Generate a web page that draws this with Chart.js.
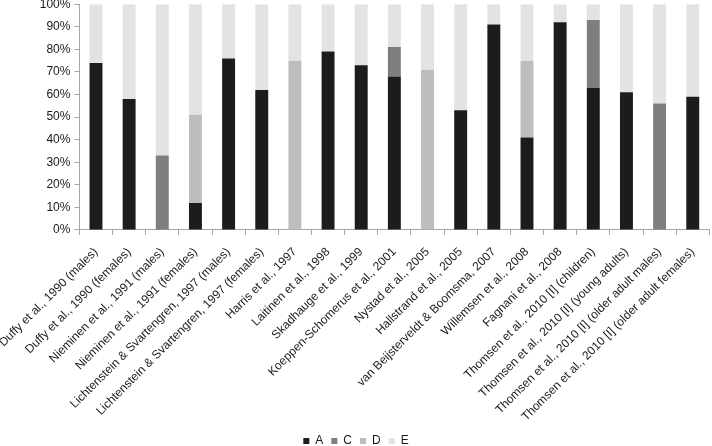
<!DOCTYPE html>
<html>
<head>
<meta charset="utf-8">
<script src="https://cdn.jsdelivr.net/npm/chart.js@4/dist/chart.umd.min.js"></script>
<style>
  html, body { margin: 0; padding: 0; background: #fff; overflow: hidden; }
  #wrap { width: 712px; height: 464px; margin-top: -7px; }
</style>
</head>
<body>
<div id="wrap"><canvas id="studiesChart"></canvas></div>
<script>
var studies = [
    'Duffy et al., 1990 (males)',
    'Duffy et al., 1990 (females)',
    'Nieminen et al., 1991 (males)',
    'Nieminen et al., 1991 (females)',
    'Lichtenstein & Svartengren, 1997 (males)',
    'Lichtenstein & Svartengren, 1997 (females)',
    'Harris et al., 1997',
    'Laitinen et al., 1998',
    'Skadhauge et al., 1999',
    'Koeppen-Schomerus et al., 2001',
    'Nystad et al., 2005',
    'Hallstrand et al., 2005',
    'van Beijsterveldt & Boomsma, 2007',
    'Willemsen et al., 2008',
    'Fagnani et al., 2008',
    'Thomsen et al., 2010 [I] (children)',
    'Thomsen et al., 2010 [I] (young adults)',
    'Thomsen et al., 2010 [I] (older adult males)',
    'Thomsen et al., 2010 [I] (older adult females)'
];

var valuesA = [74, 58, 0, 12, 76, 62, 0, 79, 73, 68, 0, 53, 91, 41, 92, 63, 61, 0, 59];
var valuesC = [0, 0, 33, 0, 0, 0, 0, 0, 0, 13, 0, 0, 0, 0, 0, 30, 0, 56, 0];
var valuesD = [0, 0, 0, 39, 0, 0, 75, 0, 0, 0, 71, 0, 0, 34, 0, 0, 0, 0, 0];
var valuesE = [26, 42, 67, 49, 24, 38, 25, 21, 27, 19, 29, 47, 9, 25, 8, 7, 39, 44, 41];

var yTicks = [0, 10, 20, 30, 40, 50, 60, 70, 80, 90, 100];

var axisGray = '#a6a6a6';
var textColor = '#1a1a1a';
var fontFamily = 'Liberation Sans, Arial, sans-serif';

function series(label, data, color) {
    return {
        label: label,
        data: data,
        backgroundColor: color,
        borderWidth: 0,
        barPercentage: 0.39,
        categoryPercentage: 1.0
    };
}

var ctx = document.getElementById('studiesChart').getContext('2d');
var chart = new Chart(ctx, {
    type: 'bar',
    data: {
        labels: studies,
        datasets: [
            series('A', valuesA, '#1c1b1d'),
            series('C', valuesC, '#7d7e80'),
            series('D', valuesD, '#bcbdbf'),
            series('E', valuesE, '#e2e3e5')
        ]
    },
    options: {
        responsive: true,
        maintainAspectRatio: false,
        animation: false,
        layout: { padding: 0 },
        plugins: {
            legend: {
                position: 'bottom',
                labels: {
                    boxWidth: 6,
                    boxHeight: 6,
                    padding: 8,
                    color: textColor,
                    font: { family: fontFamily, size: 12 }
                }
            },
            tooltip: { enabled: false }
        },
        scales: {
            x: {
                stacked: true,
                afterFit: function (axis) {
                    // squeeze the label band a bit, like the original
                    axis.height -= 7;
                    axis.paddingLeft = Math.max(0, axis.paddingLeft - 10);
                },
                grid: {
                    drawOnChartArea: false,
                    drawTicks: true,
                    tickLength: 5,
                    color: axisGray
                },
                border: { color: axisGray },
                ticks: {
                    autoSkip: false,
                    maxRotation: 45,
                    minRotation: 45,
                    padding: 10,
                    color: textColor,
                    font: { family: fontFamily, size: 12 }
                }
            },
            y: {
                stacked: true,
                min: 0,
                max: 100,
                afterBuildTicks: function (axis) {
                    axis.ticks = yTicks.map(function (v) { return { value: v }; });
                },
                grid: {
                    drawOnChartArea: false,
                    drawTicks: true,
                    tickLength: 5,
                    color: axisGray
                },
                border: { color: axisGray },
                ticks: {
                    padding: 4,
                    color: textColor,
                    font: { family: fontFamily, size: 12 },
                    callback: function (v) { return v + '%'; }
                }
            }
        }
    }
});
</script>
</body>
</html>
